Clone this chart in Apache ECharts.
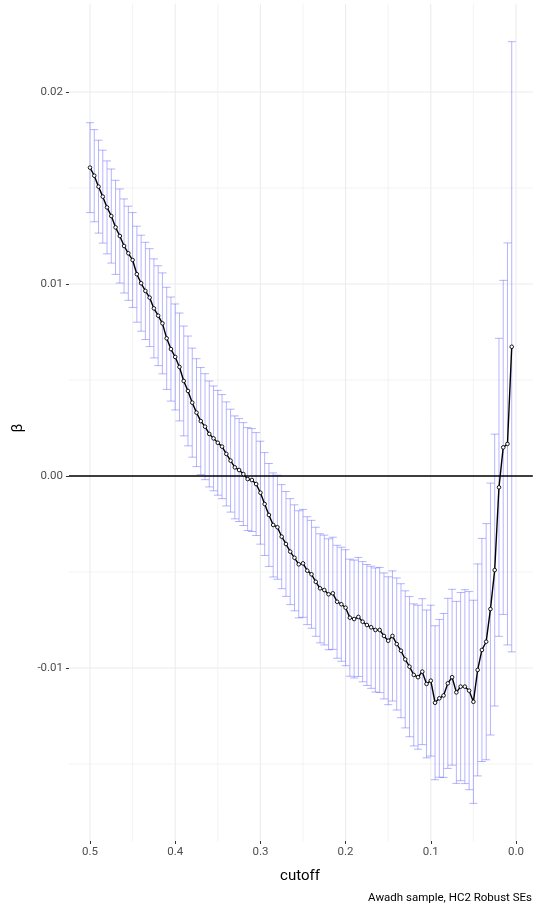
<!DOCTYPE html>
<html>
<head>
<meta charset="utf-8">
<script src="https://cdn.jsdelivr.net/npm/echarts@6/dist/echarts.min.js"></script>
<style>
html,body{margin:0;padding:0;background:#fff;}
#chart{width:537px;height:911px;}
</style>
</head>
<body>
<div id="chart"></div>
<script>
// ---- data ----
const cutoff = [0.500,0.495,0.490,0.485,0.480,0.475,0.470,0.465,0.460,0.455,
0.450,0.445,0.440,0.435,0.430,0.425,0.420,0.415,0.410,0.405,
0.400,0.395,0.390,0.385,0.380,0.375,0.370,0.365,0.360,0.355,
0.350,0.345,0.340,0.335,0.330,0.325,0.320,0.315,0.310,0.305,
0.300,0.295,0.290,0.285,0.280,0.275,0.270,0.265,0.260,0.255,
0.250,0.245,0.240,0.235,0.230,0.225,0.220,0.215,0.210,0.205,
0.200,0.195,0.190,0.185,0.180,0.175,0.170,0.165,0.160,0.155,
0.150,0.145,0.140,0.135,0.130,0.125,0.120,0.115,0.110,0.105,
0.100,0.095,0.090,0.085,0.080,0.075,0.070,0.065,0.060,0.055,
0.050,0.045,0.040,0.035,0.030,0.025,0.020,0.015,0.010,0.005];

const beta = [0.01606,0.01564,0.01507,0.01455,0.01399,0.01354,0.01295,0.01250,0.01198,0.01160,
0.01125,0.01051,0.01004,0.00964,0.00929,0.00873,0.00835,0.00795,0.00717,0.00661,
0.00620,0.00568,0.00495,0.00443,0.00382,0.00330,0.00286,0.00257,0.00219,0.00196,
0.00173,0.00153,0.00115,0.00080,0.00045,0.00031,0.00010,-0.00016,-0.00021,-0.00042,
-0.00087,-0.00146,-0.00203,-0.00255,-0.00267,-0.00316,-0.00354,-0.00394,-0.00426,-0.00460,
-0.00455,-0.00493,-0.00512,-0.00551,-0.00585,-0.00594,-0.00616,-0.00611,-0.00655,-0.00668,
-0.00686,-0.00738,-0.00745,-0.00734,-0.00759,-0.00776,-0.00788,-0.00802,-0.00802,-0.00833,
-0.00858,-0.00833,-0.00875,-0.00910,-0.00955,-0.00993,-0.01036,-0.01048,-0.01019,-0.01083,
-0.01066,-0.01181,-0.01158,-0.01143,-0.01080,-0.01048,-0.01127,-0.01097,-0.01097,-0.01118,
-0.01176,-0.01010,-0.00906,-0.00863,-0.00693,-0.00490,-0.00059,0.00149,0.00167,0.00673];

// half width of the confidence interval (HC2 robust SE * 1.96)
const halfWidth = [0.00234,0.00240,0.00242,0.00242,0.00242,0.00245,0.00245,0.00245,0.00245,0.00245,
0.00247,0.00250,0.00250,0.00253,0.00255,0.00258,0.00260,0.00263,0.00266,0.00271,
0.00276,0.00281,0.00286,0.00286,0.00284,0.00281,0.00279,0.00276,0.00276,0.00273,
0.00273,0.00271,0.00271,0.00268,0.00268,0.00268,0.00268,0.00268,0.00268,0.00268,
0.00268,0.00268,0.00268,0.00271,0.00271,0.00271,0.00273,0.00276,0.00276,0.00279,
0.00281,0.00281,0.00281,0.00284,0.00284,0.00286,0.00289,0.00292,0.00294,0.00297,
0.00302,0.00305,0.00307,0.00310,0.00313,0.00315,0.00318,0.00323,0.00326,0.00328,
0.00333,0.00339,0.00344,0.00349,0.00357,0.00365,0.00370,0.00375,0.00380,0.00385,
0.00393,0.00401,0.00411,0.00427,0.00443,0.00458,0.00474,0.00490,0.00505,0.00516,
0.00529,0.00552,0.00581,0.00615,0.00656,0.00708,0.00776,0.00870,0.01047,0.01589];

const xMajor = [0, 0.1, 0.2, 0.3, 0.4, 0.5];
const xMinor = [0.05, 0.15, 0.25, 0.35, 0.45];
const yMajor = [-0.01, 0, 0.01, 0.02];
const yMinor = [-0.015, -0.005, 0.005, 0.015];

const xTitle = 'cutoff';
const yTitle = 'β';
const caption = 'Awadh sample, HC2 Robust SEs';

// ---- derived ----
const lower = beta.map((b, i) => b - halfWidth[i]);
const upper = beta.map((b, i) => b + halfWidth[i]);
function expand(lo, hi) { const r = hi - lo; return [lo - 0.05 * r, hi + 0.05 * r]; }
const xExt = expand(Math.min(...cutoff), Math.max(...cutoff));
const yExt = expand(Math.min(...lower), Math.max(...upper));

const gridItems = [];
xMajor.forEach(v => gridItems.push({k: 'v', v: v, w: 1.0}));
xMinor.forEach(v => gridItems.push({k: 'v', v: v, w: 0.6}));
yMajor.forEach(v => gridItems.push({k: 'h', v: v, w: 1.0}));
yMinor.forEach(v => gridItems.push({k: 'h', v: v, w: 0.6}));

const chart = echarts.init(document.getElementById('chart'), null, {renderer: 'canvas'});
const fontFam = 'Roboto, "Noto Sans", sans-serif';

const option = {
  animation: false,
  backgroundColor: '#ffffff',
  grid: {left: 90, right: 21, top: 92, bottom: 243, containLabel: false},
  xAxis: {
    type: 'value', inverse: true, min: 0, max: 0.5, interval: 0.1,
    position: 'bottom', offset: 173,
    axisLine: {show: false, onZero: false},
    axisTick: {show: true, length: 3, lineStyle: {color: '#333333', width: 1}},
    splitLine: {show: false},
    axisLabel: {color: '#4d4d4d', fontSize: 11.5, fontFamily: fontFam, margin: 5,
      formatter: v => v.toFixed(1)}
  },
  yAxis: {
    type: 'value', min: -0.01, max: 0.02, interval: 0.01,
    position: 'left', offset: 21,
    axisLine: {show: false, onZero: false},
    axisTick: {show: true, length: 3, lineStyle: {color: '#333333', width: 1}},
    splitLine: {show: false},
    axisLabel: {color: '#4d4d4d', fontSize: 11.5, fontFamily: fontFam, margin: 6,
      formatter: v => v.toFixed(2)}
  },
  series: [
    {
      type: 'custom', name: 'grid', silent: true, z: 0,
      data: gridItems.map(g => g.k === 'v' ? [g.v, 0] : [0, g.v]),
      renderItem: function (params, api) {
        const g = gridItems[params.dataIndex];
        let a, b;
        if (g.k === 'v') { a = api.coord([g.v, yExt[0]]); b = api.coord([g.v, yExt[1]]); }
        else { a = api.coord([xExt[0], g.v]); b = api.coord([xExt[1], g.v]); }
        return {type: 'line', shape: {x1: a[0], y1: a[1], x2: b[0], y2: b[1]},
          style: {stroke: '#ebebeb', lineWidth: g.w}};
      }
    },
    {
      type: 'custom', name: 'ci', silent: true, z: 1,
      data: cutoff.map((c, i) => [c, lower[i], upper[i]]),
      encode: {x: 0, y: [1, 2]},
      renderItem: function (params, api) {
        const x = api.value(0);
        const t = api.coord([x, api.value(2)]);
        const b = api.coord([x, api.value(1)]);
        const cw = 4;
        const st = {stroke: 'rgba(30,30,255,0.33)', lineWidth: 1};
        return {type: 'group', children: [
          {type: 'line', shape: {x1: t[0], y1: t[1], x2: b[0], y2: b[1]}, style: st},
          {type: 'line', shape: {x1: t[0] - cw, y1: t[1], x2: t[0] + cw, y2: t[1]}, style: st},
          {type: 'line', shape: {x1: b[0] - cw, y1: b[1], x2: b[0] + cw, y2: b[1]}, style: st}
        ]};
      }
    },
    {
      type: 'custom', name: 'zero', silent: true, z: 2,
      data: [[0, 0]],
      renderItem: function (params, api) {
        const a = api.coord([xExt[0], 0]);
        const b = api.coord([xExt[1], 0]);
        return {type: 'line', shape: {x1: a[0], y1: a[1], x2: b[0], y2: b[1]},
          style: {stroke: '#000000', lineWidth: 1.3}};
      }
    },
    {
      type: 'line', name: 'beta', z: 3, clip: false,
      data: cutoff.map((c, i) => [c, beta[i]]),
      showSymbol: true, symbol: 'circle', symbolSize: 3.6,
      lineStyle: {color: '#000000', width: 1.4},
      itemStyle: {color: '#ffffff', borderColor: '#000000', borderWidth: 0.9},
      emphasis: {disabled: true}
    }
  ],
  graphic: [
    {type: 'text', x: 18, y: 428, rotation: Math.PI / 2,
      style: {text: yTitle, fontSize: 15, fontFamily: fontFam, fill: '#000000',
        textAlign: 'center', textVerticalAlign: 'middle'}},
    {type: 'text', x: 300, y: 876,
      style: {text: xTitle, fontSize: 15, fontFamily: fontFam, fill: '#000000',
        textAlign: 'center', textVerticalAlign: 'middle'}},
    {type: 'text', x: 532, y: 898,
      style: {text: caption, fontSize: 11.5, fontFamily: fontFam, fill: '#000000',
        textAlign: 'right', textVerticalAlign: 'middle'}}
  ]
};
chart.setOption(option);
</script>
</body>
</html>
